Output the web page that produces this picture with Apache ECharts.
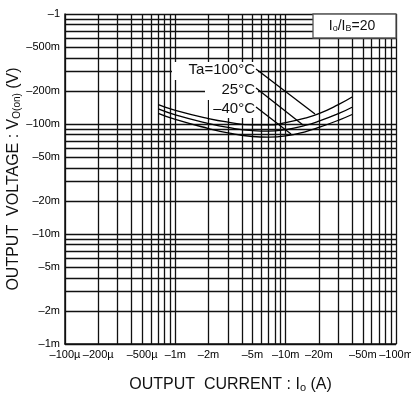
<!DOCTYPE html>
<html>
<head>
<meta charset="utf-8">
<script src="https://cdn.jsdelivr.net/npm/echarts@6/dist/echarts.min.js"></script>
<style>
html, body { margin: 0; padding: 0; background: #fff; }
#chart { width: 411px; height: 399px; }
</style>
</head>
<body>
<div id="chart"></div>
<script>
// the chart plots negative values on log scales, magnitudes are kept here (A, V)
var current = [0.0007, 0.001, 0.002, 0.003, 0.005, 0.007, 0.01, 0.015, 0.02, 0.03, 0.04];
var vHot  = [0.150, 0.133, 0.112, 0.104, 0.098, 0.098, 0.103, 0.113, 0.124, 0.150, 0.176]; // Ta=100°C
var vRoom = [0.137, 0.121, 0.101, 0.093, 0.087, 0.086, 0.089, 0.097, 0.106, 0.124, 0.142]; // 25°C
var vCold = [0.125, 0.110, 0.091, 0.083, 0.077, 0.076, 0.078, 0.085, 0.093, 0.108, 0.122]; // -40°C

var xLabelValues = [1e-4, 2e-4, 5e-4, 1e-3, 2e-3, 5e-3, 1e-2, 2e-2, 5e-2, 1e-1];
var xLabelTexts  = ['–100µ', '–200µ', '–500µ', '–1m', '–2m', '–5m', '–10m', '–20m', '–50m', '–100m'];
var yLabelValues = [1e-3, 2e-3, 5e-3, 1e-2, 2e-2, 5e-2, 1e-1, 2e-1, 5e-1, 1];
var yLabelTexts  = ['–1m', '–2m', '–5m', '–10m', '–20m', '–50m', '–100m', '–200m', '–500m', '–1'];

// log grid: 1..9 in every decade
function logGrid(lo, hi) {
	var out = [];
	for (var d = lo; d < hi * 0.99; d *= 10) {
		for (var k = 1; k < 10; k++) out.push(Number((k * d).toPrecision(3)));
	}
	out.push(hi);
	return out;
}
var xGrid = logGrid(1e-4, 1e-1);
var yGrid = logGrid(1e-3, 1);

function pick(values, texts) {
	return function (v) {
		for (var i = 0; i < values.length; i++) {
			if (Math.abs(Math.log10(v / values[i])) < 1e-6) return texts[i];
		}
		return '';
	};
}

function pairs(xs, ys) {
	var out = [];
	for (var i = 0; i < xs.length; i++) out.push([xs[i], ys[i]]);
	return out;
}

var narrow = "'Liberation Sans Narrow', 'Liberation Sans', sans-serif";
var sans = "'Liberation Sans', Arial, sans-serif";
var gridLine = { color: '#111', width: 1.3 };

var chart = echarts.init(document.getElementById('chart'));
var lineStyle = { color: '#000', width: 1.3 };

var option = {
	animation: false,
	grid: { left: 65, right: 15, top: 14, bottom: 55, containLabel: false, outerBoundsMode: 'none' },
	xAxis: {
		type: 'log',
		logBase: 10,
		min: 1e-4,
		max: 1e-1,
		name: 'OUTPUT  CURRENT : I{s|o} (A)',
		nameLocation: 'middle',
		nameGap: 32,
		nameMoveOverlap: false,
		nameTextStyle: {
			fontFamily: sans, fontSize: 16, color: '#111',
			rich: { s: { fontFamily: sans, fontSize: 11, color: '#111', padding: [6, 0, 0, 0] } }
		},
		axisLine: { show: true, lineStyle: { color: '#111', width: 1.5 } },
		axisTick: { show: false, customValues: xGrid },
		axisLabel: {
			customValues: xLabelValues,
			showMinLabel: true,
			showMaxLabel: true,
			hideOverlap: false,
			formatter: pick(xLabelValues, xLabelTexts),
			fontFamily: narrow, fontSize: 11, color: '#000', margin: 5
		},
		splitLine: { show: true, lineStyle: gridLine }
	},
	yAxis: {
		type: 'log',
		logBase: 10,
		min: 1e-3,
		max: 1,
		name: 'OUTPUT  VOLTAGE : V{s|O(on)} (V)',
		nameLocation: 'middle',
		nameRotate: 90,
		nameGap: 43,
		nameMoveOverlap: false,
		nameTextStyle: {
			fontFamily: sans, fontSize: 16, color: '#111',
			rich: { s: { fontFamily: sans, fontSize: 10, color: '#111', padding: [6, 0, 0, 0] } }
		},
		axisLine: { show: true, lineStyle: { color: '#111', width: 1.5 } },
		axisTick: { show: false, customValues: yGrid },
		axisLabel: {
			customValues: yLabelValues,
			showMinLabel: true,
			showMaxLabel: true,
			formatter: pick(yLabelValues, yLabelTexts),
			fontFamily: narrow, fontSize: 11, color: '#000', margin: 5
		},
		splitLine: { show: true, lineStyle: gridLine }
	},
	series: [
		{ name: 'Ta=100°C', type: 'line', smooth: true, showSymbol: false, lineStyle: lineStyle, data: pairs(current, vHot) },
		{ name: '25°C', type: 'line', smooth: true, showSymbol: false, lineStyle: lineStyle, data: pairs(current, vRoom) },
		{ name: '-40°C', type: 'line', smooth: true, showSymbol: false, lineStyle: lineStyle, data: pairs(current, vCold) }
	],
	graphic: [
		// condition box
		{ type: 'rect', shape: { x: 313, y: 14, width: 83, height: 24 }, style: { fill: '#fff', stroke: '#555', lineWidth: 1.3 }, z: 100 },
		{
			type: 'text', x: 352, y: 26, z: 101,
			style: {
				text: 'I{s|o}/I{s|B}=20', align: 'center', verticalAlign: 'middle',
				fontFamily: sans, fontSize: 14, fill: '#111',
				rich: { s: { fontFamily: sans, fontSize: 9, fill: '#111', padding: [6, 0, 0, 0] } }
			}
		},
		// temperature labels
		{ type: 'rect', shape: { x: 172, y: 62, width: 86, height: 18 }, style: { fill: '#fff' }, z: 100 },
		{ type: 'rect', shape: { x: 205, y: 80, width: 53, height: 20 }, style: { fill: '#fff' }, z: 100 },
		{ type: 'rect', shape: { x: 209, y: 100, width: 49, height: 18 }, style: { fill: '#fff' }, z: 100 },
		{ type: 'text', x: 255, y: 70, z: 101, style: { text: 'Ta=100°C', align: 'right', verticalAlign: 'middle', fontFamily: sans, fontSize: 15, fill: '#111' } },
		{ type: 'text', x: 255, y: 90, z: 101, style: { text: '25°C', align: 'right', verticalAlign: 'middle', fontFamily: sans, fontSize: 15, fill: '#111' } },
		{ type: 'text', x: 255, y: 109, z: 101, style: { text: '–40°C', align: 'right', verticalAlign: 'middle', fontFamily: sans, fontSize: 15, fill: '#111' } },
		{ type: 'line', shape: { x1: 256, y1: 69, x2: 315, y2: 114 }, style: { stroke: '#000', lineWidth: 1.3 }, z: 101 },
		{ type: 'line', shape: { x1: 256, y1: 88, x2: 303, y2: 125 }, style: { stroke: '#000', lineWidth: 1.3 }, z: 101 },
		{ type: 'line', shape: { x1: 256, y1: 107, x2: 291, y2: 134 }, style: { stroke: '#000', lineWidth: 1.3 }, z: 101 }
	]
};
chart.setOption(option);
</script>
</body>
</html>
